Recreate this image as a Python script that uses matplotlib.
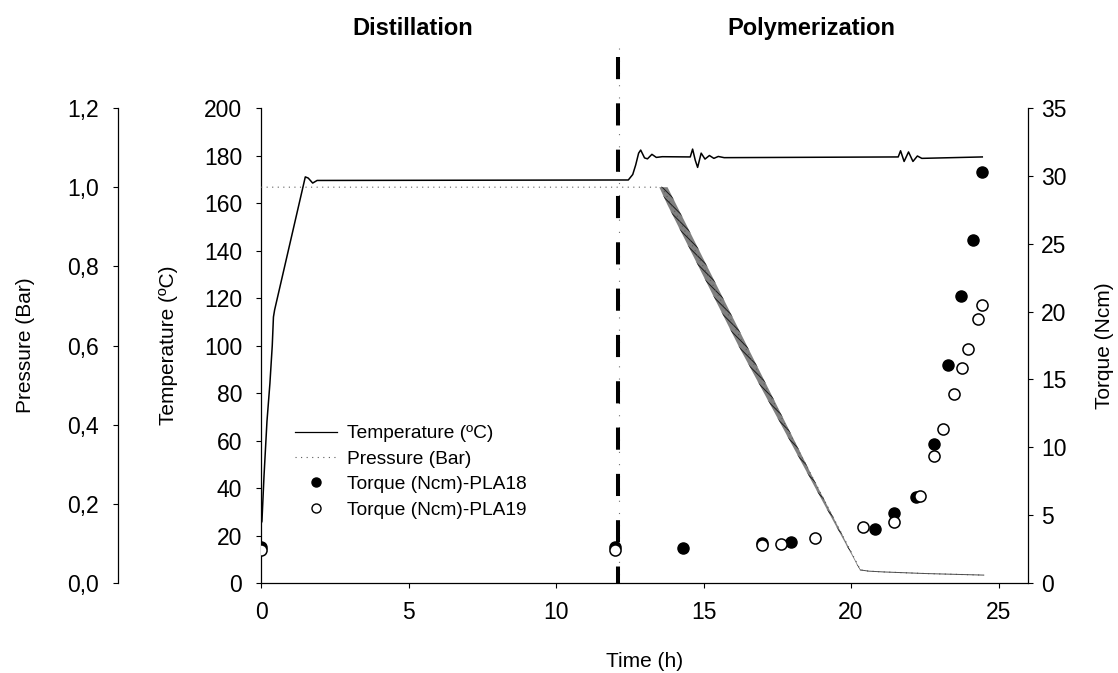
import matplotlib
matplotlib.use("Agg")
import matplotlib.pyplot as plt
import matplotlib.transforms as mtransforms
from matplotlib.lines import Line2D
from matplotlib.ticker import FuncFormatter

plt.rcParams['font.family'] = ['Liberation Sans', 'DejaVu Sans']
plt.rcParams['hatch.linewidth'] = 0.7

# reactor temperature log (h, ºC)
temp_t = [0, 0.03, 0.1, 0.2, 0.3, 0.38, 0.42, 0.46, 1.5, 1.6, 1.75, 1.9, 12.45,
          12.6, 12.7, 12.8, 12.87, 13.0, 13.1, 13.25, 13.4, 13.6, 14.55, 14.63, 14.72,
          14.8, 14.92, 15.05, 15.2, 15.35, 15.5, 15.7, 21.6, 21.68, 21.8, 21.95, 22.1,
          22.25, 22.4, 24.45]
temp_c = [25, 26, 45, 68, 84, 100, 112, 115, 171, 170.5, 168.4, 169.5, 169.7,
          172, 176, 181, 182.3, 179, 178.6, 180.5, 179.2, 179.5, 179.4, 182.7, 178,
          175, 181, 178.5, 180, 178.8, 179.6, 179.1, 179.4, 182, 177.5, 181.5, 177.5,
          179.8, 178.8, 179.4]

# pressure log (h, bar)
press_t = [0, 13.6, 20.32, 20.6, 21.1, 22.5, 24.5]
press_bar = [1.0, 1.0, 0.033, 0.03, 0.028, 0.024, 0.02]

# scatter of the noisy vacuum ramp (upper / lower readings)
band_t = [13.5, 13.78, 16.2, 18.74, 20.32]
band_hi = [1.0, 1.0, 0.64, 0.262, 0.033]
band_lo = [1.0, 0.955, 0.597, 0.247, 0.03]

# torque measurements (h, Ncm)
pla18_t = [0, 12.0, 14.29, 16.98, 17.97, 20.8, 21.45, 22.2, 22.81, 23.29, 23.73, 24.14, 24.45]
pla18_tq = [2.65, 2.65, 2.58, 2.95, 3.02, 3.98, 5.16, 6.34, 10.24, 16.06, 21.15, 25.27, 30.28]
pla19_t = [0, 12.0, 16.98, 17.63, 18.79, 20.42, 21.45, 22.33, 22.81, 23.12, 23.49, 23.76,
           23.97, 24.31, 24.45]
pla19_tq = [2.43, 2.43, 2.8, 2.87, 3.3, 4.13, 4.5, 6.4, 9.36, 11.35, 13.9, 15.84,
            17.24, 19.45, 20.48]

t_switch = 12.1

fig = plt.figure(figsize=(11.18, 6.73), dpi=100)
ax = fig.add_axes([0.2335, 0.1337, 0.686, 0.7058])
ax_p = ax.twinx()
ax_t = ax.twinx()

tick_kw = dict(direction='out', length=3.6, width=0.8, labelsize=16.5)

# temperature (main axis)
ax.plot(temp_t, temp_c, color='black', lw=1.1, zorder=3)
ax.set_xlim(0, 26)
ax.set_ylim(0, 200)
ax.set_xticks(range(0, 26, 5))
ax.set_yticks(range(0, 201, 20))
ax.tick_params(axis='y', pad=10, **tick_kw)
ax.tick_params(axis='x', pad=9, **tick_kw)
for s in ['top', 'right']:
    ax.spines[s].set_visible(False)
for s in ['left', 'bottom']:
    ax.spines[s].set_linewidth(0.9)
ax.set_xlabel('Time (h)', fontsize=15)
ax.set_ylabel('Temperature (ºC)', fontsize=15)
ax.xaxis.set_label_coords(0.5, -0.145)
ax.yaxis.set_label_coords(-0.108, 0.5)

# pressure on an offset left axis
ax_p.plot(press_t, press_bar, color='0.35', lw=0.8, linestyle=(0, (1, 4)))
ax_p.plot(press_t[2:], press_bar[2:], color='0.3', lw=0.7)
ax_p.fill_between(band_t, band_lo, band_hi, facecolor='0.5', edgecolor='0.1',
                  hatch='\\\\\\\\', linewidth=0)
ax_p.set_ylim(0, 1.2)
ax_p.set_yticks([0, 0.2, 0.4, 0.6, 0.8, 1.0, 1.2])
ax_p.yaxis.set_major_formatter(FuncFormatter(lambda v, p: f'{v:.1f}'.replace('.', ',')))
ax_p.spines['left'].set_position(('axes', -0.1864))
ax_p.spines['left'].set_visible(True)
ax_p.spines['left'].set_linewidth(0.9)
for s in ['right', 'top', 'bottom']:
    ax_p.spines[s].set_visible(False)
ax_p.yaxis.set_ticks_position('left')
ax_p.yaxis.set_label_position('left')
ax_p.tick_params(axis='y', pad=10, **tick_kw)
ax_p.set_ylabel('Pressure (Bar)', fontsize=15)
ax_p.yaxis.set_label_coords(-0.295, 0.5)

# torque on the right axis
ax_t.plot(pla18_t, pla18_tq, 'o', color='black', ms=8, zorder=4)
ax_t.plot(pla19_t, pla19_tq, 'o', mfc='white', mec='black', mew=1.1, ms=8, zorder=5)
ax_t.set_ylim(0, 35)
ax_t.set_yticks(range(0, 36, 5))
ax_t.tick_params(axis='y', pad=6, **tick_kw)
for s in ['left', 'top', 'bottom']:
    ax_t.spines[s].set_visible(False)
ax_t.spines['right'].set_linewidth(0.9)
ax_t.set_ylabel('Torque (Ncm)', fontsize=15)
ax_t.yaxis.set_label_coords(1.087, 0.5)

# distillation / polymerization boundary
trans = mtransforms.blended_transform_factory(ax_t.transData, ax_t.transAxes)
ax_t.plot([t_switch + 0.03, t_switch + 0.03], [1.126, 0], transform=trans, color='0.45',
          lw=0.8, linestyle=(0, (1, 10)), clip_on=False, zorder=2)
ax_t.plot([t_switch, t_switch], [1.107, 0], transform=trans, color='black',
          lw=2.9, linestyle=(0, (5.5, 6)), clip_on=False, zorder=3)

fig.text(0.369, 0.957, 'Distillation', fontsize=17, fontweight='bold', ha='center', va='center')
fig.text(0.726, 0.957, 'Polymerization', fontsize=17, fontweight='bold', ha='center', va='center')

handles = [
    Line2D([], [], color='black', lw=0.9),
    Line2D([], [], color='0.35', lw=0.8, linestyle=(0, (1, 4))),
    Line2D([], [], marker='o', color='black', ls='none', ms=6.5),
    Line2D([], [], marker='o', mfc='white', mec='black', mew=1.0, ls='none', ms=6.5),
]
labels = ['Temperature (ºC)', 'Pressure (Bar)', 'Torque (Ncm)-PLA18', 'Torque (Ncm)-PLA19']
ax_t.legend(handles, labels, loc='upper left', bbox_to_anchor=(0.0443, 0.333),
            frameon=False, fontsize=13.8, handlelength=2.2, handletextpad=0.5,
            labelspacing=0.42, borderpad=0, borderaxespad=0)

fig.savefig('out.png', dpi=100)
